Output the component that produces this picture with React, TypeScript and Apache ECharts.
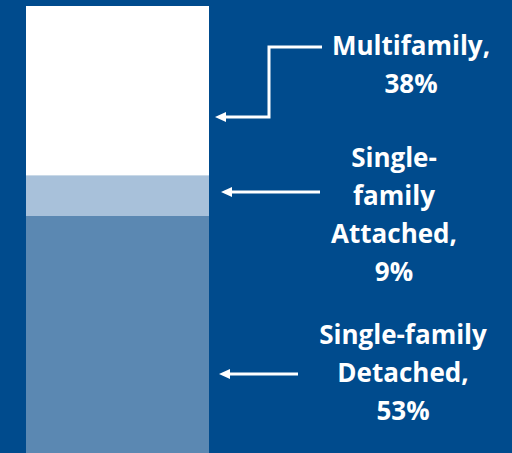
import React, { useEffect, useRef } from "react";
import * as echarts from "echarts";

const categories = ["Housing"];
const seriesNames = ["Single-family Detached", "Single-family Attached", "Multifamily"];
const seriesValues = [[53], [9], [38]];
const seriesColors = ["#5B88B2", "#A8C1DA", "#FFFFFF"];
const labels = ["Multifamily,\n38%", "Single-\nfamily\nAttached,\n9%", "Single-family\nDetached,\n53%"];

const BG = "#004B8D";

function arrowHead(x: number, y: number) {
  return {
    type: "polygon",
    shape: { points: [[x, y], [x + 11, y - 5], [x + 11, y + 5]] },
    style: { fill: "#fff" },
    silent: true,
  };
}

export default function App() {
  const ref = useRef<HTMLDivElement>(null);
  useEffect(() => {
    const chart = echarts.init(ref.current!, undefined, { renderer: "svg" });
    const textStyle = {
      fill: "#fff",
      font: "bold 26px 'Open Sans'",
      lineHeight: 38,
      align: "center",
      verticalAlign: "top",
    };
    chart.setOption({
      animation: false,
      backgroundColor: BG,
      grid: { left: 26, right: 303, top: 6, bottom: 0 },
      xAxis: { type: "category", data: categories, show: false },
      yAxis: { type: "value", min: 0, max: 100, show: false },
      series: seriesNames.map((name, i) => ({
        name,
        type: "bar",
        stack: "total",
        barWidth: "100%",
        data: seriesValues[i],
        itemStyle: { color: seriesColors[i] },
      })),
      graphic: [
        {
          type: "polyline",
          shape: { points: [[322, 47], [269, 47], [269, 117], [224, 117]] },
          style: { stroke: "#fff", lineWidth: 3, fill: null },
          silent: true,
        },
        arrowHead(215, 117),
        {
          type: "line",
          shape: { x1: 320, y1: 192, x2: 230, y2: 192 },
          style: { stroke: "#fff", lineWidth: 3 },
          silent: true,
        },
        arrowHead(221, 192),
        {
          type: "line",
          shape: { x1: 298, y1: 374, x2: 228, y2: 374 },
          style: { stroke: "#fff", lineWidth: 3 },
          silent: true,
        },
        arrowHead(219, 374),
        { type: "text", x: 411, y: 26, style: { ...textStyle, text: labels[0] } },
        { type: "text", x: 394, y: 138, style: { ...textStyle, text: labels[1] } },
        { type: "text", x: 403, y: 315, style: { ...textStyle, text: labels[2] } },
      ],
    });
    return () => chart.dispose();
  }, []);
  return <div ref={ref} style={{ width: 512, height: 453, position: "fixed", left: 0, top: 0 }} />;
}
